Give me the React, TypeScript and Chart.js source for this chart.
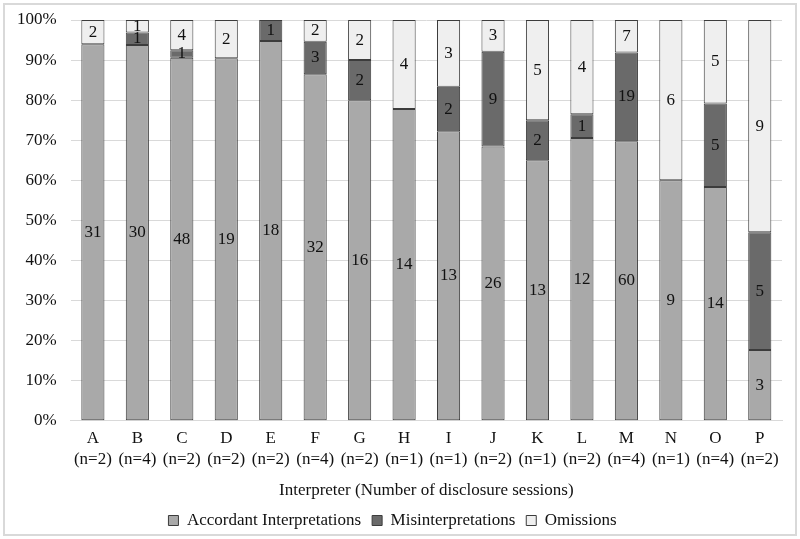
import React, { useEffect, useRef } from "react";
import { Chart, registerables } from "chart.js";

Chart.register(...registerables);

const letters = ["A", "B", "C", "D", "E", "F", "G", "H", "I", "J", "K", "L", "M", "N", "O", "P"];
const sessions = [2, 4, 2, 2, 2, 4, 2, 1, 1, 2, 1, 2, 4, 1, 4, 2];
const accordant = [31, 30, 48, 19, 18, 32, 16, 14, 13, 26, 13, 12, 60, 9, 14, 3];
const misinterp = [0, 1, 1, 0, 1, 3, 2, 0, 2, 9, 2, 1, 19, 0, 5, 5];
const omissions = [2, 1, 4, 2, 0, 2, 2, 4, 3, 3, 5, 4, 7, 6, 5, 9];
const seriesNames = ["Accordant Interpretations", "Misinterpretations", "Omissions"];
const yTicks = [0, 10, 20, 30, 40, 50, 60, 70, 80, 90, 100];

const FONT = "'Liberation Serif', 'Times New Roman', serif";

export default function App() {
  const ref = useRef<HTMLCanvasElement | null>(null);
  useEffect(() => {
    document.body.style.margin = "0";
    const totals = accordant.map((a, i) => a + misinterp[i] + omissions[i]);
    const counts = [accordant, misinterp, omissions];
    const pct = counts.map((arr) => arr.map((v, i) => (v ? (v / totals[i]) * 100 : null)));
    const colors = ["#a9a9a9", "#6a6a6a", "#efefef"];

    const labelPlugin = {
      id: "segLabels",
      afterDatasetsDraw(chart: any) {
        const ctx = chart.ctx;
        ctx.save();
        ctx.font = `17px ${FONT}`;
        ctx.fillStyle = "#111";
        ctx.textAlign = "center";
        ctx.textBaseline = "middle";
        chart.data.datasets.forEach((ds: any, di: number) => {
          const meta = chart.getDatasetMeta(di);
          meta.data.forEach((bar: any, i: number) => {
            const v = counts[di][i];
            if (!v) return;
            const y = (bar.y + bar.base) / 2;
            ctx.fillText(String(v), bar.x, y);
          });
        });
        ctx.restore();
      },
    };

    const chart = new Chart(ref.current!, {
      type: "bar",
      data: {
        labels: letters.map((l, i) => [l, `(n=${sessions[i]})`]),
        datasets: pct.map((d, k) => ({
          label: seriesNames[k],
          data: d,
          backgroundColor: colors[k],
          borderColor: "#3c3c3c",
          borderWidth: 1,
          borderSkipped: false,
          barPercentage: 0.52,
          categoryPercentage: 1,
        })),
      },
      options: {
        responsive: false,
        animation: false,
        devicePixelRatio: 1,
        layout: { padding: { left: 3, right: 18, top: 20, bottom: 0 } },
        plugins: {
          tooltip: { enabled: false },
          legend: {
            position: "bottom",
            labels: {
              font: { family: FONT, size: 17 },
              color: "#111",
              boxWidth: 10,
              boxHeight: 10,
              padding: 11,
            },
          },
        },
        scales: {
          x: {
            stacked: true,
            grid: { display: false, drawTicks: false },
            border: { display: true, color: "#d9d9d9" },
            ticks: { font: { family: FONT, size: 17 }, color: "#111", maxRotation: 0, padding: 8 },
            title: {
              display: true,
              text: "Interpreter (Number of disclosure sessions)",
              font: { family: FONT, size: 17 },
              color: "#111",
              padding: { top: 3, bottom: 0 },
            },
          },
          y: {
            stacked: true,
            min: 0,
            max: 100,
            afterBuildTicks(scale: any) {
              scale.ticks = yTicks.map((v) => ({ value: v }));
            },
            afterFit(scale: any) {
              scale.paddingTop = 0;
              scale.paddingBottom = 0;
            },
            grid: { color: "#d9d9d9", drawTicks: false },
            border: { display: false },
            ticks: {
              font: { family: FONT, size: 17 },
              color: "#111",
              padding: 14,
              callback: (v: any) => `${v}%`,
            },
          },
        },
      },
      plugins: [labelPlugin],
    });
    return () => chart.destroy();
  }, []);

  return (
    <div style={{ position: "absolute", left: 0, top: 0, width: 800, height: 539, background: "#fff" }}>
      <canvas ref={ref} width={800} height={539} style={{ position: "absolute", left: 0, top: 0 }} />
      <div
        style={{
          position: "absolute",
          left: 3,
          top: 3,
          width: 794,
          height: 533,
          border: "2px solid #d9d9d9",
          boxSizing: "border-box",
          pointerEvents: "none",
        }}
      />
    </div>
  );
}
